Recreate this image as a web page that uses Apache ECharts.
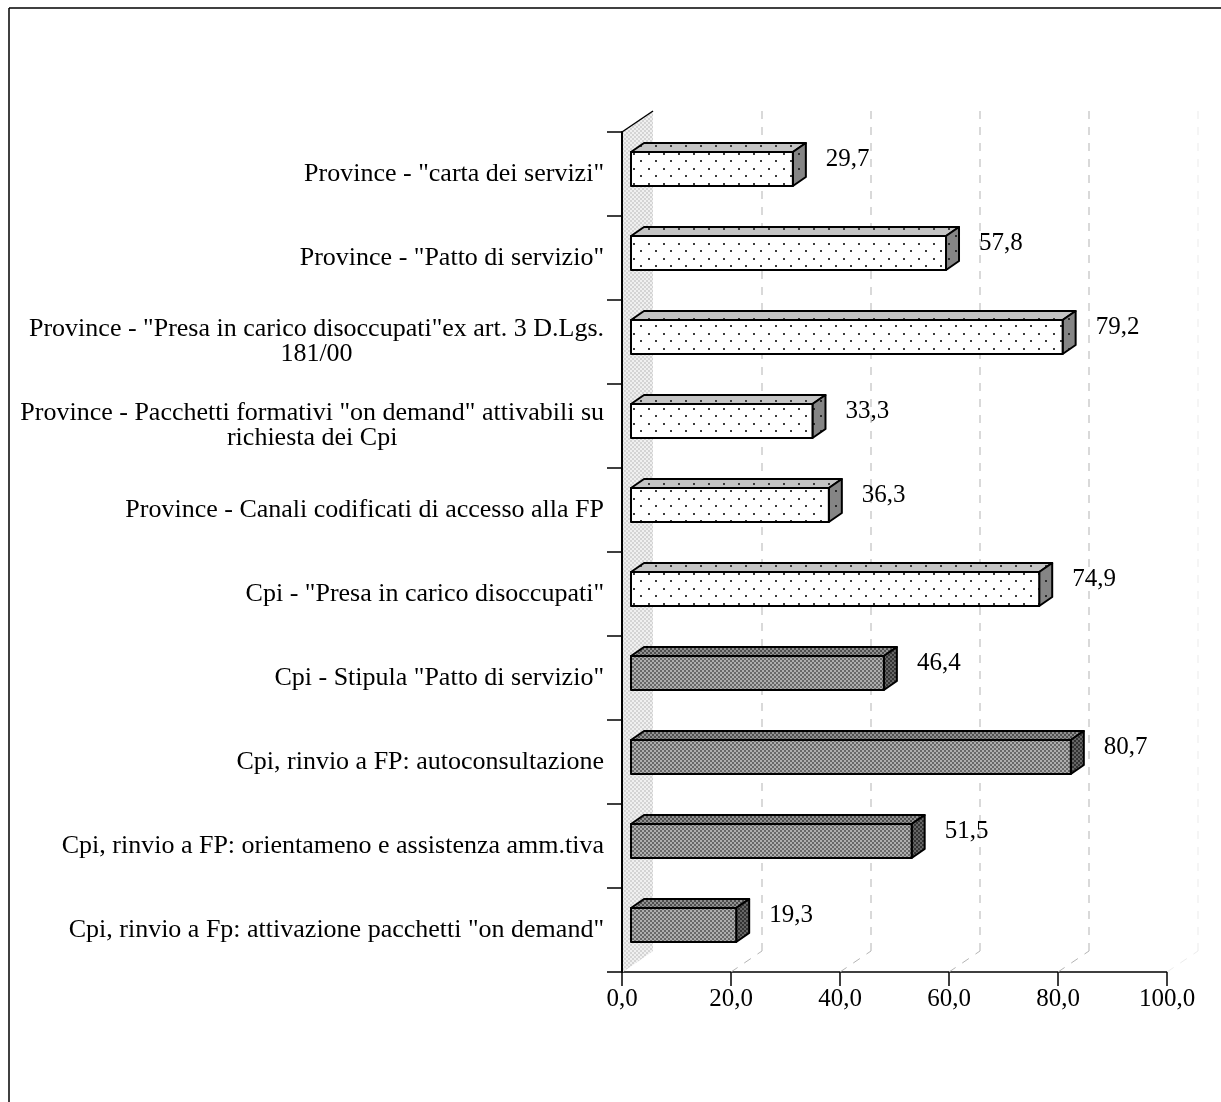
<!DOCTYPE html>
<html>
<head>
<meta charset="utf-8">
<script src="https://cdn.jsdelivr.net/npm/echarts@6/dist/echarts.min.js"></script>
<style>
  html, body { margin: 0; padding: 0; background: #ffffff; }
  #chart { width: 1221px; height: 1102px; }
</style>
</head>
<body>
<div id="chart"></div>
<script>
// Categories, top to bottom (line breaks as they wrap on the axis)
const categories = [
  'Province - "carta dei servizi"',
  'Province - "Patto di servizio"',
  'Province - "Presa in carico disoccupati"ex art. 3 D.Lgs.\n181/00',
  'Province - Pacchetti formativi "on demand" attivabili su\nrichiesta dei Cpi',
  'Province - Canali codificati di accesso alla FP',
  'Cpi - "Presa in carico disoccupati"',
  'Cpi - Stipula "Patto di servizio"',
  'Cpi, rinvio a FP: autoconsultazione',
  'Cpi, rinvio a FP: orientameno e assistenza amm.tiva',
  'Cpi, rinvio a Fp: attivazione pacchetti "on demand"'
];

// Percentages
const values = [29.7, 57.8, 79.2, 33.3, 36.3, 74.9, 46.4, 80.7, 51.5, 19.3];

// Value axis ticks
const xTicks = [0, 20, 40, 60, 80, 100];

// ---------------------------------------------------------------------------
const FONT = '"Liberation Serif", "Times New Roman", serif';
const DOTTED_COUNT = 6;              // first bars use the dotted fill
const BACK = [31, -21];              // depth of the plot box (back wall offset)
const BAR_FRONT = [9, -5];           // bar front face, pushed into the box
const BAR_DEPTH = [13, -9];          // bar thickness in depth

function tile(w, h, draw) {
  const c = document.createElement('canvas');
  c.width = w; c.height = h;
  draw(c.getContext('2d'));
  return { image: c, repeat: 'repeat' };
}
function dots(bg, dot) {
  return tile(15, 15, g => {
    g.fillStyle = bg; g.fillRect(0, 0, 15, 15);
    g.fillStyle = dot;
    g.fillRect(3, 3, 2, 2);
    g.fillRect(10, 10, 2, 2);
  });
}
function checker(a, b) {
  return tile(4, 4, g => {
    for (let y = 0; y < 2; y++) for (let x = 0; x < 2; x++) {
      g.fillStyle = (x + y) % 2 ? a : b;
      g.fillRect(x * 2, y * 2, 2, 2);
    }
  });
}

const fills = {
  dotted: { front: dots('#ffffff', '#3c3c3c'), top: dots('#c4c4c4', '#3c3c3c'), side: dots('#858585', '#2a2a2a') },
  dark:   { front: checker('#686868', '#aeaeae'), top: checker('#4e4e4e', '#929292'), side: checker('#333333', '#666666') },
  wall: checker('#d4d4d4', '#f0f0f0')
};

const fmt = v => v.toFixed(1).replace('.', ',');

// Back wall, back gridlines and floor lines
function renderFrame(params, api) {
  const v = api.value(0);
  const cs = params.coordSys;
  const top = cs.y, bottom = cs.y + cs.height;
  const x = api.coord([v, 0])[0];
  if (v === 0) {
    return {
      type: 'group',
      children: [
        { type: 'polygon', shape: { points: [[x + 1, top], [x + BACK[0], top + BACK[1]], [x + BACK[0], bottom + BACK[1]], [x + 1, bottom]] },
          style: { fill: fills.wall } },
        { type: 'line', shape: { x1: x, y1: top, x2: x + BACK[0], y2: top + BACK[1] },
          style: { stroke: '#000', lineWidth: 1.5 } }
      ]
    };
  }
  // the far edge of the box is barely visible
  const dash = { stroke: v === 100 ? '#ececec' : '#b4b4b4', lineWidth: 1, lineDash: [8, 8] };
  return {
    type: 'group',
    children: [
      { type: 'line', shape: { x1: x + BACK[0], y1: top + BACK[1], x2: x + BACK[0], y2: bottom + BACK[1] }, style: dash },
      { type: 'line', shape: { x1: x, y1: bottom, x2: x + BACK[0], y2: bottom + BACK[1] }, style: dash }
    ]
  };
}

// 3D-looking bar: front rectangle, top and end faces, value label
function renderBar(params, api) {
  const v = api.value(0), i = api.value(1);
  const base = api.coord([0, i]);
  const end = api.coord([v, i]);
  const band = api.size([0, 1])[1];
  const h = band * 0.405;
  const f = i < DOTTED_COUNT ? fills.dotted : fills.dark;
  const x0 = base[0] + BAR_FRONT[0], x1 = end[0] + BAR_FRONT[0];
  const yT = base[1] + BAR_FRONT[1] - h / 2, yB = yT + h;
  const [dx, dy] = BAR_DEPTH;
  const edge = { stroke: '#000', lineWidth: 2, lineJoin: 'round' };
  return {
    type: 'group',
    children: [
      { type: 'polygon', shape: { points: [[x0, yT], [x0 + dx, yT + dy], [x1 + dx, yT + dy], [x1, yT]] },
        style: Object.assign({ fill: f.top }, edge) },
      { type: 'polygon', shape: { points: [[x1, yT], [x1 + dx, yT + dy], [x1 + dx, yB + dy], [x1, yB]] },
        style: Object.assign({ fill: f.side }, edge) },
      { type: 'rect', shape: { x: x0, y: yT, width: x1 - x0, height: h },
        style: Object.assign({ fill: f.front }, edge) },
      { type: 'text', x: x1 + 33, y: base[1] - 15,
        style: { text: fmt(v), fill: '#000', font: '25px ' + FONT, align: 'left', verticalAlign: 'middle' } }
    ]
  };
}

const chart = echarts.init(document.getElementById('chart'), null, { renderer: 'canvas' });

chart.setOption({
  backgroundColor: '#ffffff',
  animation: false,
  grid: { left: 622, top: 132, width: 545, height: 840 },
  xAxis: {
    type: 'value', min: 0, max: 100, interval: 20,
    axisLine: { show: true, lineStyle: { color: '#000', width: 1.5 } },
    axisTick: { show: true, length: 14, lineStyle: { color: '#000', width: 1.5 } },
    axisLabel: { formatter: fmt, color: '#000', fontFamily: FONT, fontSize: 25, margin: 15 },
    splitLine: { show: false }
  },
  yAxis: {
    type: 'category', inverse: true, data: categories,
    axisLine: { show: true, lineStyle: { color: '#000', width: 2 } },
    axisTick: { show: true, length: 15, lineStyle: { color: '#000', width: 1.5 } },
    axisLabel: {
      color: '#000', fontFamily: FONT, fontSize: 26, margin: 18, lineHeight: 25,
      formatter: s => s.split('\n').map(l => '{c|' + l + '}').join('\n'),
      rich: { c: { align: 'center', color: '#000', fontFamily: FONT, fontSize: 26, lineHeight: 25 } }
    },
    splitLine: { show: false }
  },
  series: [
    {
      type: 'custom', z: 1, silent: true,
      renderItem: renderFrame,
      data: xTicks.map(t => [t]),
      encode: { x: 0 }
    },
    {
      type: 'custom', z: 3, silent: true,
      renderItem: renderBar,
      data: values.map((v, i) => [v, i]),
      encode: { x: 0, y: 1 }
    }
  ],
  graphic: [
    { type: 'line', shape: { x1: 9, y1: 8, x2: 1221, y2: 8 }, style: { stroke: '#000', lineWidth: 1.5 } },
    { type: 'line', shape: { x1: 9, y1: 8, x2: 9, y2: 1102 }, style: { stroke: '#000', lineWidth: 1.5 } }
  ]
});
</script>
</body>
</html>
